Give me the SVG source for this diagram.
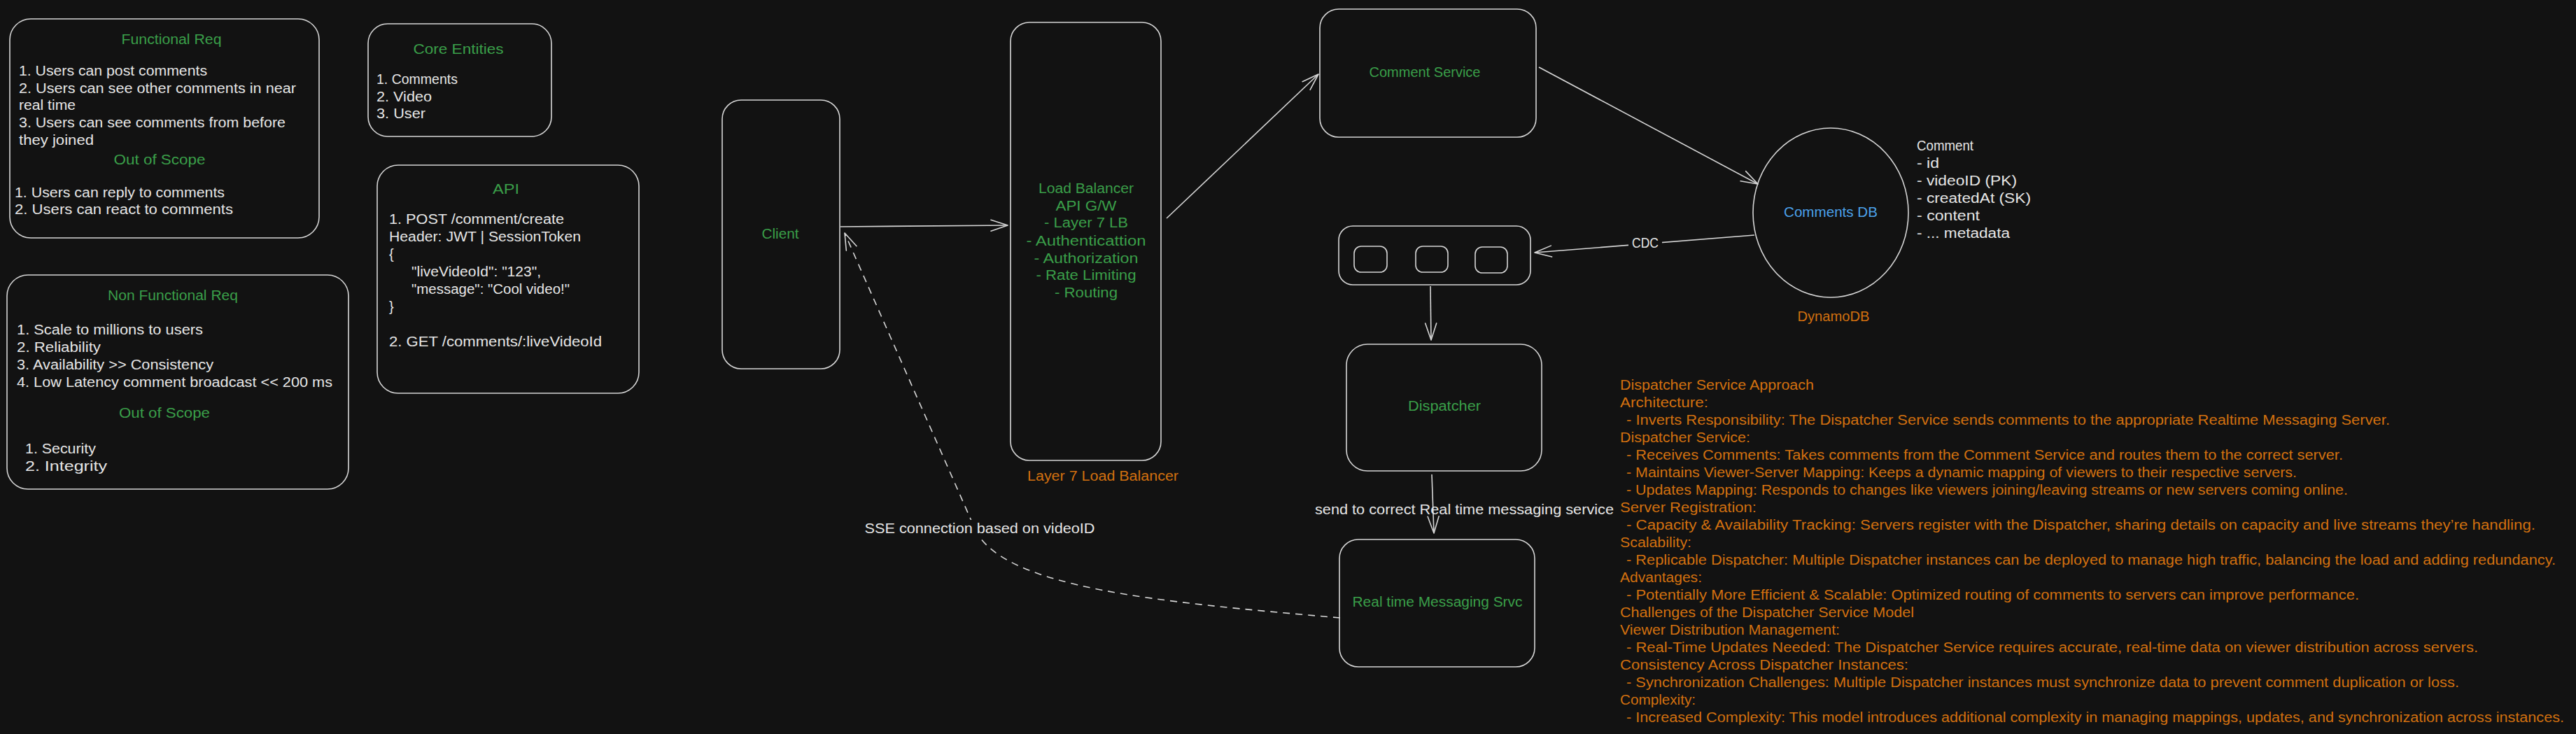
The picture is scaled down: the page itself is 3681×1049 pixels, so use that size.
<svg xmlns="http://www.w3.org/2000/svg" width="3681" height="1049" viewBox="0 0 3681 1049">
<style>
.bx{fill:none;stroke:#d6d6d6;stroke-width:1.6}
.ln{fill:none;stroke:#d6d6d6;stroke-width:1.6}
.dash{stroke-dasharray:10 8}
.t{font-family:'Liberation Sans',Arial,sans-serif;font-size:20px;fill:#e6e6e6}
.m{text-anchor:middle}
.g{fill:#3a9f49}
.o{fill:#d2700f}
.b{fill:#4ba1ea}
.bg{fill:#121212}
</style>
<defs>
<marker id="ah" viewBox="0 0 26 20" refX="25" refY="10" markerWidth="26" markerHeight="20" markerUnits="userSpaceOnUse" orient="auto">
<path d="M1,2 L25,10 L1,18" fill="none" stroke="#d6d6d6" stroke-width="1.6" stroke-linecap="round" stroke-linejoin="round"/>
</marker>
</defs>
<rect width="3681" height="1049" fill="#121212"/>

<g id="connectors">
<path class="ln" d="M1201,324 L1440,322" marker-end="url(#ah)"/>
<path class="ln" d="M1667,312 L1884,106" marker-end="url(#ah)"/>
<path class="ln" d="M2199,96 L2512,263" marker-end="url(#ah)"/>
<path class="ln" d="M2507,336 L2193,361" marker-end="url(#ah)"/>
<path class="ln" d="M2044,409 L2045,486" marker-end="url(#ah)"/>
<path class="ln" d="M2046,678 L2049,762" marker-end="url(#ah)"/>
<path class="ln dash" d="M1915,883 C1650,860 1440,840 1395,760 L1207,333" marker-end="url(#ah)"/>
<rect class="bg" x="2327" y="338" width="48" height="22"/>
<text class="t m" x="2351" y="354" font-size="16" textLength="38" lengthAdjust="spacingAndGlyphs">CDC</text>
<text class="t" x="1879" y="735" textLength="427" lengthAdjust="spacingAndGlyphs">send to correct Real time messaging service</text>
<rect class="bg" x="1232" y="743" width="337" height="27"/>
<text class="t m" x="1400" y="762" textLength="329" lengthAdjust="spacingAndGlyphs">SSE connection based on videoID</text>
</g>

<g id="functional-req">
<rect class="bx" x="14" y="27" width="442" height="313" rx="30"/>
<text class="t m g" x="245" y="63" textLength="143" lengthAdjust="spacingAndGlyphs">Functional Req</text>
<text class="t" x="27" y="108" textLength="269" lengthAdjust="spacingAndGlyphs">1. Users can post comments</text>
<text class="t" x="27" y="133" textLength="396" lengthAdjust="spacingAndGlyphs">2. Users can see other comments in near</text>
<text class="t" x="27" y="157" textLength="81" lengthAdjust="spacingAndGlyphs">real time</text>
<text class="t" x="27" y="182" textLength="381" lengthAdjust="spacingAndGlyphs">3. Users can see comments from before</text>
<text class="t" x="27" y="207" textLength="107" lengthAdjust="spacingAndGlyphs">they joined</text>
<text class="t m g" x="228" y="235" textLength="131" lengthAdjust="spacingAndGlyphs">Out of Scope</text>
<text class="t" x="21" y="282" textLength="300" lengthAdjust="spacingAndGlyphs">1. Users can reply to comments</text>
<text class="t" x="21" y="306" textLength="312" lengthAdjust="spacingAndGlyphs">2. Users can react to comments</text>
</g>

<g id="non-functional-req">
<rect class="bx" x="10" y="393" width="488" height="306" rx="30"/>
<text class="t m g" x="247" y="429" textLength="186" lengthAdjust="spacingAndGlyphs">Non Functional Req</text>
<text class="t" x="24" y="478" textLength="266" lengthAdjust="spacingAndGlyphs">1. Scale to millions to users</text>
<text class="t" x="24" y="503" textLength="120" lengthAdjust="spacingAndGlyphs">2. Reliability</text>
<text class="t" x="24" y="528" textLength="281" lengthAdjust="spacingAndGlyphs">3. Availability &gt;&gt; Consistency</text>
<text class="t" x="24" y="553" textLength="451" lengthAdjust="spacingAndGlyphs">4. Low Latency comment broadcast &lt;&lt; 200 ms</text>
<text class="t m g" x="235" y="597" textLength="130" lengthAdjust="spacingAndGlyphs">Out of Scope</text>
<text class="t" x="36" y="648" textLength="101" lengthAdjust="spacingAndGlyphs">1. Security</text>
<text class="t" x="36" y="673" textLength="117" lengthAdjust="spacingAndGlyphs">2. Integrity</text>
</g>

<g id="core-entities">
<rect class="bx" x="526" y="34" width="262" height="161" rx="28"/>
<text class="t m g" x="655" y="77" textLength="129" lengthAdjust="spacingAndGlyphs">Core Entities</text>
<text class="t" x="538" y="120" textLength="116" lengthAdjust="spacingAndGlyphs">1. Comments</text>
<text class="t" x="538" y="145" textLength="79" lengthAdjust="spacingAndGlyphs">2. Video</text>
<text class="t" x="538" y="169" textLength="70" lengthAdjust="spacingAndGlyphs">3. User</text>
</g>

<g id="api">
<rect class="bx" x="539" y="236" width="374" height="326" rx="30"/>
<text class="t m g" x="723" y="277" textLength="38" lengthAdjust="spacingAndGlyphs">API</text>
<text class="t" x="556" y="320" textLength="250" lengthAdjust="spacingAndGlyphs">1. POST /comment/create</text>
<text class="t" x="556" y="345" textLength="274" lengthAdjust="spacingAndGlyphs">Header: JWT | SessionToken</text>
<text class="t" x="556" y="370">{</text>
<text class="t" x="588" y="395" textLength="185" lengthAdjust="spacingAndGlyphs">"liveVideoId": "123",</text>
<text class="t" x="588" y="420" textLength="226" lengthAdjust="spacingAndGlyphs">"message": "Cool video!"</text>
<text class="t" x="556" y="445">}</text>
<text class="t" x="556" y="495" textLength="304" lengthAdjust="spacingAndGlyphs">2. GET /comments/:liveVideoId</text>
</g>

<g id="client">
<rect class="bx" x="1032" y="143" width="168" height="384" rx="27"/>
<text class="t m g" x="1115" y="341" textLength="53" lengthAdjust="spacingAndGlyphs">Client</text>
</g>

<g id="load-balancer">
<rect class="bx" x="1444" y="32" width="215" height="626" rx="27"/>
<text class="t m g" x="1552" y="276" textLength="136" lengthAdjust="spacingAndGlyphs">Load Balancer</text>
<text class="t m g" x="1552" y="301" textLength="87" lengthAdjust="spacingAndGlyphs">API G/W</text>
<text class="t m g" x="1552" y="325" textLength="120" lengthAdjust="spacingAndGlyphs">- Layer 7 LB</text>
<text class="t m g" x="1552" y="351" textLength="171" lengthAdjust="spacingAndGlyphs">- Authenticattion</text>
<text class="t m g" x="1552" y="376" textLength="149" lengthAdjust="spacingAndGlyphs">- Authorization</text>
<text class="t m g" x="1552" y="400" textLength="143" lengthAdjust="spacingAndGlyphs">- Rate Limiting</text>
<text class="t m g" x="1552" y="425" textLength="90" lengthAdjust="spacingAndGlyphs">- Routing</text>
<text class="t m o" x="1576" y="687" textLength="216" lengthAdjust="spacingAndGlyphs">Layer 7 Load Balancer</text>
</g>

<g id="comment-service">
<rect class="bx" x="1886" y="13" width="309" height="183" rx="27"/>
<text class="t m g" x="2036" y="110" textLength="159" lengthAdjust="spacingAndGlyphs">Comment Service</text>
</g>

<g id="comments-db">
<ellipse class="bx" cx="2616" cy="304" rx="111" ry="121"/>
<text class="t m b" x="2616" y="310" font-size="22" textLength="134" lengthAdjust="spacingAndGlyphs">Comments DB</text>
<text class="t m o" x="2620" y="459" font-size="22" textLength="103" lengthAdjust="spacingAndGlyphs">DynamoDB</text>
</g>

<g id="comment-schema">
<text class="t" x="2739" y="215" textLength="81" lengthAdjust="spacingAndGlyphs">Comment</text>
<text class="t" x="2739" y="240" textLength="32" lengthAdjust="spacingAndGlyphs">- id</text>
<text class="t" x="2739" y="265" textLength="143" lengthAdjust="spacingAndGlyphs">- videoID (PK)</text>
<text class="t" x="2739" y="290" textLength="163" lengthAdjust="spacingAndGlyphs">- createdAt (SK)</text>
<text class="t" x="2739" y="315" textLength="90" lengthAdjust="spacingAndGlyphs">- content</text>
<text class="t" x="2739" y="340" textLength="133" lengthAdjust="spacingAndGlyphs">- ... metadata</text>
</g>

<g id="queue">
<rect class="bx" x="1913" y="323" width="274" height="84" rx="20"/>
<rect class="bx" x="1935" y="352" width="47" height="37" rx="10"/>
<rect class="bx" x="2023" y="352" width="46" height="37" rx="10"/>
<rect class="bx" x="2108" y="353" width="46" height="37" rx="10"/>
</g>

<g id="dispatcher">
<rect class="bx" x="1924" y="492" width="279" height="181" rx="30"/>
<text class="t m g" x="2064" y="587" textLength="104" lengthAdjust="spacingAndGlyphs">Dispatcher</text>
</g>

<g id="realtime-messaging">
<rect class="bx" x="1914" y="771" width="279" height="182" rx="27"/>
<text class="t m g" x="2054" y="867" textLength="243" lengthAdjust="spacingAndGlyphs">Real time Messaging Srvc</text>
</g>

<g id="dispatcher-notes">
<text class="t o" x="2315" y="557" textLength="277" lengthAdjust="spacingAndGlyphs">Dispatcher Service Approach</text>
<text class="t o" x="2315" y="582" textLength="126" lengthAdjust="spacingAndGlyphs">Architecture:</text>
<text class="t o" x="2324" y="607" textLength="1091" lengthAdjust="spacingAndGlyphs">- Inverts Responsibility: The Dispatcher Service sends comments to the appropriate Realtime Messaging Server.</text>
<text class="t o" x="2315" y="632" textLength="186" lengthAdjust="spacingAndGlyphs">Dispatcher Service:</text>
<text class="t o" x="2324" y="657" textLength="1024" lengthAdjust="spacingAndGlyphs">- Receives Comments: Takes comments from the Comment Service and routes them to the correct server.</text>
<text class="t o" x="2324" y="682" textLength="958" lengthAdjust="spacingAndGlyphs">- Maintains Viewer-Server Mapping: Keeps a dynamic mapping of viewers to their respective servers.</text>
<text class="t o" x="2324" y="707" textLength="1031" lengthAdjust="spacingAndGlyphs">- Updates Mapping: Responds to changes like viewers joining/leaving streams or new servers coming online.</text>
<text class="t o" x="2315" y="732" textLength="195" lengthAdjust="spacingAndGlyphs">Server Registration:</text>
<text class="t o" x="2324" y="757" textLength="1299" lengthAdjust="spacingAndGlyphs">- Capacity &amp; Availability Tracking: Servers register with the Dispatcher, sharing details on capacity and live streams they’re handling.</text>
<text class="t o" x="2315" y="782" textLength="102" lengthAdjust="spacingAndGlyphs">Scalability:</text>
<text class="t o" x="2324" y="807" textLength="1328" lengthAdjust="spacingAndGlyphs">- Replicable Dispatcher: Multiple Dispatcher instances can be deployed to manage high traffic, balancing the load and adding redundancy.</text>
<text class="t o" x="2315" y="832" textLength="117" lengthAdjust="spacingAndGlyphs">Advantages:</text>
<text class="t o" x="2324" y="857" textLength="1047" lengthAdjust="spacingAndGlyphs">- Potentially More Efficient &amp; Scalable: Optimized routing of comments to servers can improve performance.</text>
<text class="t o" x="2315" y="882" textLength="420" lengthAdjust="spacingAndGlyphs">Challenges of the Dispatcher Service Model</text>
<text class="t o" x="2315" y="907" textLength="314" lengthAdjust="spacingAndGlyphs">Viewer Distribution Management:</text>
<text class="t o" x="2324" y="932" textLength="1217" lengthAdjust="spacingAndGlyphs">- Real-Time Updates Needed: The Dispatcher Service requires accurate, real-time data on viewer distribution across servers.</text>
<text class="t o" x="2315" y="957" textLength="412" lengthAdjust="spacingAndGlyphs">Consistency Across Dispatcher Instances:</text>
<text class="t o" x="2324" y="982" textLength="1190" lengthAdjust="spacingAndGlyphs">- Synchronization Challenges: Multiple Dispatcher instances must synchronize data to prevent comment duplication or loss.</text>
<text class="t o" x="2315" y="1007" textLength="108" lengthAdjust="spacingAndGlyphs">Complexity:</text>
<text class="t o" x="2324" y="1032" textLength="1340" lengthAdjust="spacingAndGlyphs">- Increased Complexity: This model introduces additional complexity in managing mappings, updates, and synchronization across instances.</text>
</g>
</svg>
